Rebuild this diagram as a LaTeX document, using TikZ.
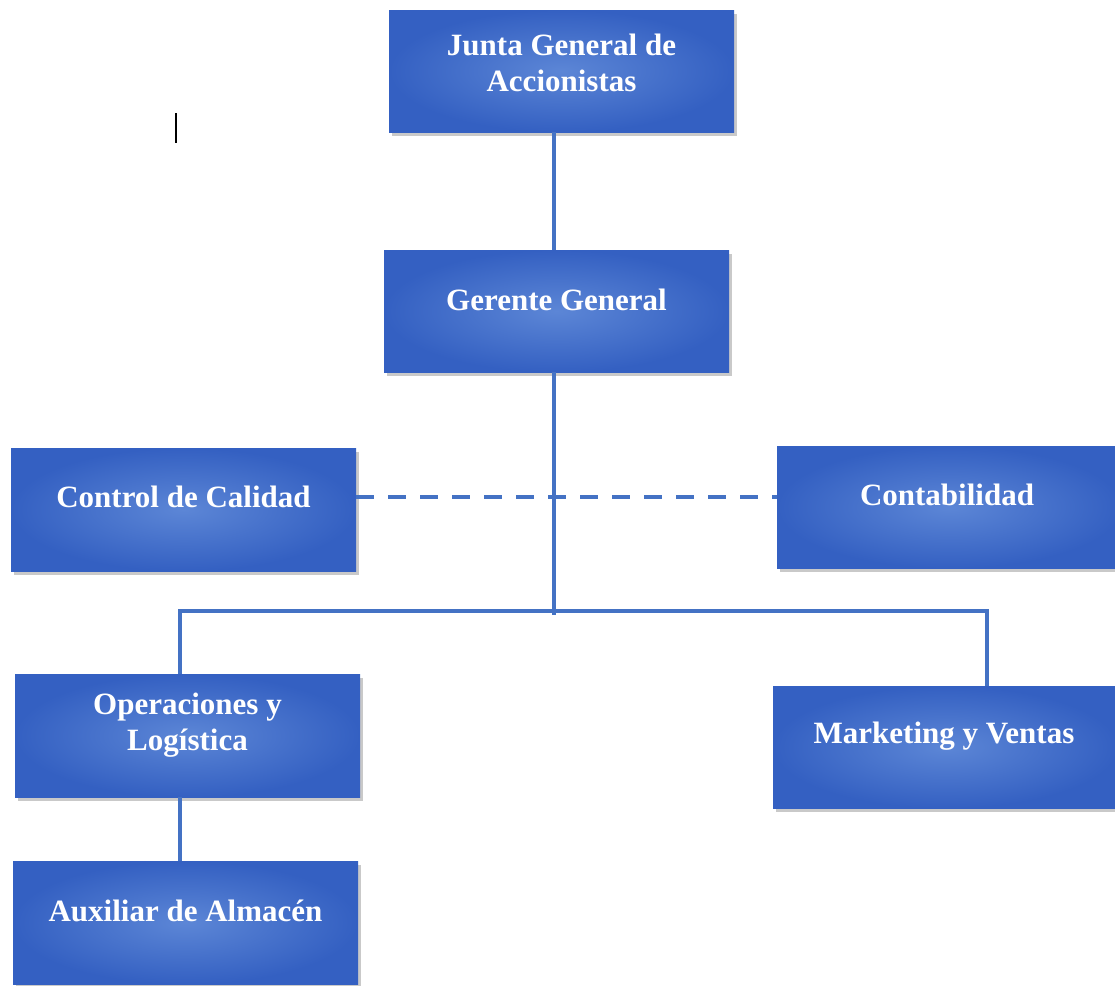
\documentclass[tikz,border=0pt]{standalone}
\usepackage{fontspec}
\setmainfont{Liberation Serif}
\usetikzlibrary{shadows,calc}
\definecolor{boxout}{RGB}{52,96,194}
\definecolor{boxin}{RGB}{92,134,214}
\definecolor{linkblue}{RGB}{68,114,196}
\tikzset{
  orgbox/.style={rectangle, minimum width=345pt, minimum height=122pt, inner sep=0pt,
    shading=radial, inner color=boxin, outer color=boxout,
    drop shadow={shadow xshift=3pt, shadow yshift=-4pt, opacity=0.35, fill=black!60}},
  orgtext/.style={text=white, font=\fontsize{31}{36}\selectfont\bfseries, align=center, inner sep=0pt},
  link/.style={draw=linkblue, line width=4pt, line join=miter},
  dlink/.style={draw=linkblue, line width=4pt, dash pattern=on 18pt off 14pt}
}
\begin{document}
\begin{tikzpicture}[x=1pt,y=1pt]
\useasboundingbox (0,0) rectangle (1115,-985);
\fill[white] (0,0) rectangle (1115,-985);
% boxes
\node[orgbox] (junta) at (561.5,-71) {};
\node[orgbox] (gerente) at (556.5,-311) {};
\node[orgbox, minimum height=123pt] (control) at (183.5,-509.5) {};
\node[orgbox] (conta) at (949.5,-507) {};
\node[orgbox, minimum height=123pt] (oper) at (187.5,-735.5) {};
\node[orgbox] (market) at (945.5,-747) {};
\node[orgbox, minimum height=123pt] (aux) at (185.5,-922.5) {};
% texts
\node[orgtext] (tjunta) at (561.5,-63) {Junta General de\\Accionistas};
\node[orgtext] (tgerente) at (556.5,-300) {Gerente General};
\node[orgtext] (tcontrol) at (183.5,-497) {Control de Calidad};
\node[orgtext] (tconta) at (947,-495) {Contabilidad};
\node[orgtext] (toper) at (187.5,-725) {Operaciones y\\Log\'istica};
\node[orgtext] (tmarket) at (944,-736) {Marketing y Ventas};
\node[orgtext] (taux) at (185.5,-911) {Auxiliar de Almac\'en};
% connector coordinates
\coordinate (bus) at (554,-611);
\coordinate (busL) at (180,-611);
\coordinate (busR) at (987,-611);
\coordinate (dashy) at (0,-497);
% connectors
\draw[link] (junta.south -| bus) -- (gerente.north -| bus);
\draw[link] (gerente.south -| bus) -- ([yshift=-4pt]bus);
\draw[link] (oper.north -| busL) -- (busL) -- (busR) -- (market.north -| busR);
\draw[link] (oper.south -| busL) -- (aux.north -| busL);
\draw[dlink] (control.east |- dashy) -- (conta.west |- dashy);
% text cursor mark
\coordinate (curA) at (176,-113);
\coordinate (curB) at (176,-143);
\draw[black, line width=1.5pt] (curA) -- (curB);
\end{tikzpicture}
\end{document}
